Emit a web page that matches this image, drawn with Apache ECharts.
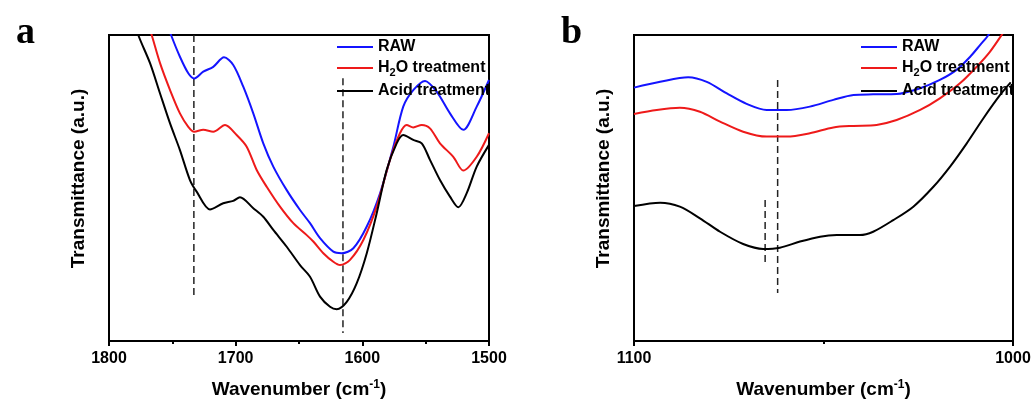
<!DOCTYPE html>
<html>
<head>
<meta charset="utf-8">
<script src="https://cdn.jsdelivr.net/npm/echarts@6/dist/echarts.min.js"></script>
<style>html,body{margin:0;padding:0;background:#fff}#c{width:1033px;height:403px}</style>
</head>
<body>
<div id="c"></div>
<script>
// Panel a (1800-1500 cm-1), values in arbitrary transmittance units (0-100 = plot height)
const rawA = [[1756,106],[1751,100],[1744,92.9],[1737.4,87.5],[1732.7,85.8],[1725.6,88.0],[1717.7,89.6],[1709.2,92.7],[1701.9,90.2],[1694,83.1],[1686.1,74.4],[1678.2,64.6],[1670.3,57.0],[1659.7,49.3],[1649.2,42.8],[1641.3,38.5],[1633.4,33.6],[1622.9,29.2],[1616.3,28.7],[1607.1,30.3],[1596.5,37.4],[1586,48.3],[1575.5,63.5],[1567.7,76.6],[1559.8,82.0],[1550.5,85.0],[1541.3,81.5],[1530.8,74.4],[1520.3,69.0],[1509.7,76.6],[1500,85.3]];
const h2oA = [[1771,106],[1766.3,100],[1759.7,90.8],[1751.8,82.0],[1744,74.4],[1737.4,70.0],[1732.7,68.4],[1725.6,69.0],[1717.7,68.4],[1708.4,70.6],[1699.2,67.3],[1691.3,63.5],[1683.4,55.9],[1675.5,50.4],[1665,43.9],[1654.5,38.5],[1643.9,34.6],[1638.7,32.5],[1630.8,28.7],[1622.9,25.9],[1617.6,24.8],[1609.7,26.5],[1599.2,33.0],[1588.7,43.9],[1578.2,59.2],[1570.3,67.9],[1565,70.6],[1559.8,69.8],[1553.1,70.6],[1546.6,69.5],[1538.7,64.6],[1528.2,60.2],[1520.3,55.7],[1509.7,60.2],[1500,67.9]];
const acidA = [[1781,106],[1776.9,100],[1767.6,90.8],[1759.7,80.9],[1751.8,71.1],[1744,62.4],[1736.1,52.6],[1730.8,48.8],[1720.3,43.0],[1709.8,45.0],[1701.9,45.8],[1696.6,47.0],[1686.1,43.4],[1678.2,40.6],[1670.3,36.3],[1659.7,30.8],[1649.2,24.8],[1641.3,21.0],[1633.4,14.5],[1625.5,11.2],[1620.2,10.4],[1612.3,12.8],[1604.4,18.9],[1596.5,28.7],[1588.7,41.7],[1580.8,55.9],[1572.9,64.6],[1567.7,67.3],[1559.8,65.7],[1553.1,64.6],[1546.6,59.2],[1538.7,52.6],[1530.8,47.2],[1524.2,43.7],[1517.6,48.3],[1509.7,57.0],[1500,64.1]];
// Panel b (1100-1000 cm-1)
const rawB = [[1100,82.8],[1093.1,84.7],[1085.7,86.2],[1080.8,84.7],[1075.5,80.9],[1070.3,77.5],[1065,75.5],[1059.7,75.5],[1053.6,76.6],[1047.4,78.8],[1042.1,80.4],[1036.9,80.6],[1030.7,80.7],[1024.5,82.6],[1019.3,85.3],[1014.9,88.6],[1011.3,92.9],[1008.7,96.7],[1006.5,100],[1004,106]];
const h2oB = [[1100,74.2],[1094,75.5],[1087.9,76.2],[1082.6,74.9],[1077.3,71.7],[1071.2,68.4],[1065,66.8],[1059.7,66.8],[1053.6,67.9],[1047.4,69.8],[1042.1,70.3],[1036,70.6],[1030.7,72.2],[1024.5,75.5],[1019.3,79.3],[1014,84.2],[1009.6,89.6],[1006.1,94.5],[1003,100],[1001,104]];
const acidB = [[1100,44.1],[1093.1,45.2],[1087.9,43.9],[1082.6,40.1],[1077.3,35.7],[1071.2,31.7],[1065.9,30.1],[1061.5,30.5],[1056.2,32.5],[1050.9,34.1],[1046.5,34.6],[1040.4,34.6],[1036.9,35.7],[1031.6,39.5],[1026.3,43.9],[1021,50.4],[1016.6,57.0],[1012.2,64.6],[1007.8,72.8],[1003.4,80.4],[1000.6,84.5]];
// Dashed guide lines
const dashA1 = [[1733,100],[1733,15.0]];
const dashA2 = [[1615.3,85.9],[1615.3,2.6]];
const dashB1 = [[1062.1,85.3],[1062.1,15.7]];
const dashB2 = [[1065.4,46.1],[1065.4,24.5]];
const seriesNames = ['RAW','H2O treatment','Acid treatment'];
const seriesColors = ['#1414ff','#ee1a1a','#000000'];
const xRangeA = [1500,1800];
const xRangeB = [1000,1100];

const FONT = 'Liberation Sans, Arial, sans-serif';
const chart = echarts.init(document.getElementById('c'));

function xAxisCfg(gi, range){
  return {
    gridIndex: gi, type: 'value', min: range[0], max: range[1], interval: 100, inverse: true,
    name: '{m|Wavenumber (cm}{s|-1}{m|)}', nameLocation: 'middle', nameGap: 38,
    nameTextStyle: {rich: {
      m: {fontFamily: FONT, fontWeight: 'bold', fontSize: 19, color: '#000', lineHeight: 22},
      s: {fontFamily: FONT, fontWeight: 'bold', fontSize: 12, color: '#000', lineHeight: 22, verticalAlign: 'top', padding: [0,0,8,0]}
    }},
    axisLine: {show: true, onZero: false, lineStyle: {color: '#000', width: 2}},
    axisTick: {show: true, length: 5, lineStyle: {color: '#000', width: 2}},
    minorTick: {show: true, splitNumber: 2, length: 3, lineStyle: {color: '#000', width: 2}},
    axisLabel: {show: true, margin: 10, fontFamily: FONT, fontWeight: 'bold', fontSize: 16, color: '#000',
      showMinLabel: true, showMaxLabel: true, formatter: function(v){ return String(v); }},
    splitLine: {show: false}, minorSplitLine: {show: false}
  };
}
function yAxisCfg(gi){
  return {
    gridIndex: gi, type: 'value', min: 0, max: 100,
    name: 'Transmittance (a.u.)', nameLocation: 'middle', nameGap: 21,
    nameTextStyle: {fontFamily: FONT, fontWeight: 'bold', fontSize: 19, color: '#000', padding: [0,0,0,19]},
    axisLine: {show: true, lineStyle: {color: '#000', width: 2}},
    axisTick: {show: false}, axisLabel: {show: false}, splitLine: {show: false}
  };
}
function legendCfg(left){
  return {
    orient: 'vertical', left: left, top: 34, itemWidth: 36, itemHeight: 2, itemGap: 5,
    data: seriesNames.map(function(n){ return {name: n, icon: 'rect'}; }),
    formatter: function(n){ return n === 'H2O treatment' ? '{t|H}{sub|2}{t|O treatment}' : '{t|' + n + '}'; },
    textStyle: {rich: {
      t: {fontFamily: FONT, fontWeight: 'bold', fontSize: 16, color: '#000', lineHeight: 20},
      sub: {fontFamily: FONT, fontWeight: 'bold', fontSize: 11, color: '#000', lineHeight: 11, verticalAlign: 'bottom'}
    }}
  };
}
function lineSeries(name, data, ci, color){
  return {name: name, type: 'line', xAxisIndex: ci, yAxisIndex: ci, data: data, smooth: 0.3,
    symbol: 'none', clip: true, color: color, itemStyle: {color: color}, lineStyle: {color: color, width: 2}, z: 3, animation: false};
}
function dashSeries(data, ci){
  return {type: 'line', xAxisIndex: ci, yAxisIndex: ci, data: data, symbol: 'none', clip: true,
    lineStyle: {color: '#222', width: 1.5, type: [7,4]}, z: 2, animation: false, silent: true};
}

chart.setOption({
  animation: false,
  backgroundColor: '#fff',
  title: [
    {text: 'a', left: 11, top: 9, textStyle: {fontFamily: 'Liberation Serif, Times New Roman, serif', fontWeight: 'bold', fontSize: 38, color: '#000'}},
    {text: 'b', left: 556, top: 9, textStyle: {fontFamily: 'Liberation Serif, Times New Roman, serif', fontWeight: 'bold', fontSize: 38, color: '#000'}}
  ],
  grid: [
    {left: 109, top: 35, width: 380, height: 306, show: true, borderColor: '#000', borderWidth: 2, backgroundColor: 'transparent', outerBoundsMode: 'none', containLabel: false},
    {left: 634, top: 35, width: 379, height: 306, show: true, borderColor: '#000', borderWidth: 2, backgroundColor: 'transparent', outerBoundsMode: 'none', containLabel: false}
  ],
  xAxis: [xAxisCfg(0, xRangeA), xAxisCfg(1, xRangeB)],
  yAxis: [yAxisCfg(0), yAxisCfg(1)],
  legend: [legendCfg(332), legendCfg(856)],
  series: [
    lineSeries(seriesNames[0], rawA, 0, seriesColors[0]),
    lineSeries(seriesNames[1], h2oA, 0, seriesColors[1]),
    lineSeries(seriesNames[2], acidA, 0, seriesColors[2]),
    dashSeries(dashA1, 0), dashSeries(dashA2, 0),
    lineSeries(seriesNames[0], rawB, 1, seriesColors[0]),
    lineSeries(seriesNames[1], h2oB, 1, seriesColors[1]),
    lineSeries(seriesNames[2], acidB, 1, seriesColors[2]),
    dashSeries(dashB1, 1), dashSeries(dashB2, 1)
  ]
});
</script>
</body>
</html>
